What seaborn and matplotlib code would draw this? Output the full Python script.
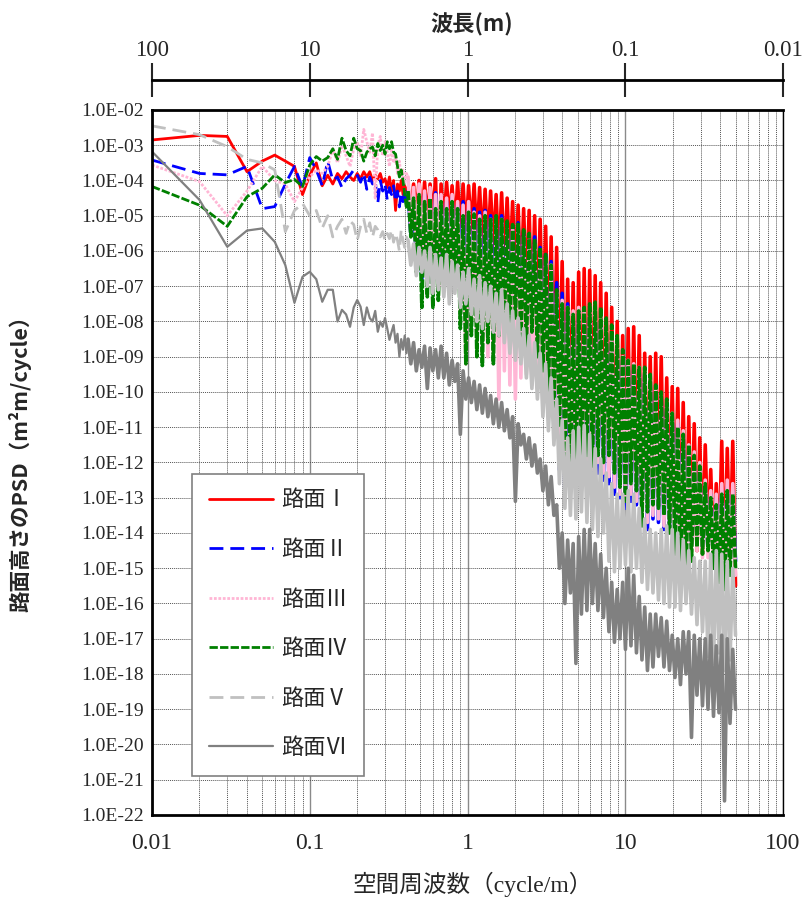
import numpy as np
import pandas as pd
import seaborn as sns
import matplotlib
matplotlib.use("Agg")
import matplotlib.pyplot as plt
from matplotlib.ticker import LogLocator, FuncFormatter, NullLocator, NullFormatter

# ---------------- data (log10 of PSD) ----------------
freq_low = np.round(np.arange(1, 42) * 0.01, 2)          # 0.01 .. 0.41 cycle/m
freq_dense = np.geomspace(0.42, 50, 120)                  # dense part 0.42 .. 50 cycle/m

road1_low = [-2.85, -2.72, -2.75, -3.75, -3.45, -3.28, -3.45, -3.6, -4.4, -3.85,
             -3.5, -4.15, -3.85, -4.1, -3.8, -3.95, -3.75, -3.9, -4.0, -3.8,
             -3.95, -3.75, -3.9, -3.75, -4.0, -3.85, -3.95, -3.8, -4.05, -3.95,
             -4.2, -3.9, -4.3, -4.0, -4.85, -4.1, -4.3, -4.0, -4.4, -4.15, -4.3]
road1_dense = [-4.2, -4.9, -4.1, -5.0, -4.0, -5.3,
               -4.05, -5.2, -4.1, -5.1, -3.95, -7.0,
               -4.1, -5.3, -4.05, -5.2, -4.15, -5.5,
               -4.05, -5.4, -4.1, -5.6, -4.15, -5.5,
               -4.1, -5.7, -4.2, -5.9, -4.25, -6.0,
               -4.3, -6.0, -4.4, -6.3, -4.35, -6.4,
               -4.5, -6.5, -4.6, -6.9, -4.7, -7.2,
               -4.8, -7.3, -4.85, -7.8, -5.0, -8.2,
               -5.1, -8.5, -5.3, -9.0, -5.6, -9.6,
               -5.9, -10.4, -6.3, -10.8, -6.8, -11.0,
               -6.9, -11.5, -6.6, -11.6, -6.5, -11.4,
               -6.55, -11.5, -6.7, -11.8, -6.9, -12.0,
               -7.2, -12.0, -7.6, -12.2, -8.0, -12.5,
               -8.4, -13.1, -8.2, -12.8, -8.15, -12.6,
               -8.4, -12.9, -8.9, -13.2, -9.0, -13.2,
               -8.9, -13.0, -9.0, -13.3, -9.6, -13.6,
               -9.85, -14.0, -9.9, -14.4, -10.3, -14.5,
               -10.7, -14.3, -10.9, -14.5, -11.3, -14.6,
               -11.5, -14.3, -12.2, -14.9, -12.6, -14.8,
               -11.4, -15.5, -11.6, -14.9, -11.4, -15.5]

road2_low = [-3.42, -3.8, -3.84, -3.6, -4.8, -4.74, -4.1, -3.6, -4.2, -3.35,
             -3.7, -4.15, -3.45, -4.0, -3.9, -4.2, -3.95, -3.85, -3.7, -3.85,
             -4.05, -3.8, -4.25, -3.9, -4.1, -4.0, -4.65, -4.0, -4.3, -4.1,
             -4.55, -4.2, -4.4, -4.15, -4.6, -4.3, -4.75, -4.35, -4.6, -4.3, -4.7]
road2_dense = [-4.3, -5.5, -4.5, -6.2, -4.4, -6.8,
               -4.4, -6.5, -4.5, -7.0, -4.35, -6.6,
               -4.5, -6.4, -4.6, -6.8, -4.5, -6.6,
               -4.7, -7.0, -4.6, -7.4, -4.8, -7.2,
               -4.8, -7.6, -4.9, -7.9, -4.85, -7.5,
               -5.0, -8.0, -5.1, -8.3, -5.0, -8.2,
               -5.2, -8.6, -5.3, -9.0, -5.2, -8.8,
               -5.5, -9.0, -5.7, -9.3, -5.6, -9.6,
               -5.9, -10.0, -6.1, -10.4, -6.3, -10.8,
               -6.9, -12.2, -7.2, -13.0, -7.5, -12.7,
               -7.8, -12.7, -7.7, -12.5, -7.8, -12.4,
               -7.8, -12.4, -7.9, -12.3, -8.0, -12.5,
               -8.3, -12.6, -8.6, -12.9, -8.8, -13.0,
               -9.1, -13.3, -9.2, -13.1, -9.3, -13.2,
               -9.4, -13.5, -9.5, -13.9, -9.7, -13.6,
               -10.0, -13.7, -10.2, -13.9, -10.4, -14.0,
               -10.7, -14.0, -10.9, -14.2, -11.2, -14.1,
               -11.7, -14.3, -12.0, -14.2, -12.2, -14.4,
               -12.7, -14.5, -12.9, -14.6, -13.0, -14.5,
               -12.8, -14.7, -12.7, -14.9, -12.8, -14.8]

road3_low = [-3.56, -4.03, -5.0, -4.3, -3.6, -4.0, -4.1, -4.6, -4.2, -3.9,
             -3.7, -3.8, -3.6, -3.1, -3.5, -3.0, -3.3, -3.6, -3.1, -2.9,
             -3.3, -2.55, -2.9, -3.2, -2.65, -4.5, -3.0, -2.75, -3.3, -2.9,
             -3.2, -3.6, -3.1, -3.5, -3.3, -3.8, -3.45, -3.9, -3.7, -4.1, -3.8]
road3_dense = [-3.9, -5.4, -4.2, -5.8, -4.1, -6.2,
               -4.3, -6.5, -4.2, -6.9, -4.4, -6.4,
               -4.4, -7.0, -4.5, -7.2, -4.4, -6.8,
               -4.6, -7.8, -4.7, -9.2, -4.6, -8.0,
               -4.9, -8.6, -5.0, -8.9, -4.9, -9.0,
               -5.1, -9.2, -5.2, -10.2, -5.1, -9.4,
               -5.3, -9.8, -5.4, -10.2, -5.3, -9.6,
               -5.6, -9.5, -5.7, -9.8, -5.8, -9.9,
               -6.0, -10.4, -6.2, -10.6, -6.4, -11.0,
               -7.2, -11.5, -7.4, -12.0, -7.6, -12.3,
               -7.7, -12.5, -7.6, -12.3, -7.65, -12.2,
               -7.6, -12.2, -7.65, -12.0, -7.8, -12.3,
               -8.2, -12.4, -8.4, -12.7, -8.6, -12.9,
               -9.0, -13.1, -9.1, -12.9, -9.2, -13.1,
               -9.3, -13.6, -9.4, -13.7, -9.6, -13.5,
               -9.9, -13.6, -10.1, -13.8, -10.3, -14.0,
               -10.6, -14.6, -10.8, -14.8, -11.1, -15.0,
               -11.5, -14.6, -11.7, -14.5, -12.0, -14.7,
               -12.5, -14.7, -12.8, -15.0, -12.9, -15.1,
               -12.6, -15.3, -12.5, -15.1, -12.6, -15.2]

road4_low = [-4.17, -4.7, -5.3, -4.46, -4.22, -3.84, -4.06, -3.97, -4.17, -3.56,
             -3.32, -3.45, -3.35, -3.1, -3.4, -2.8, -3.15, -3.3, -2.8, -3.1,
             -3.15, -3.45, -3.2, -3.1, -3.05, -3.3, -2.95, -3.15, -3.0, -3.25,
             -2.9, -3.1, -2.9, -3.2, -3.25, -3.6, -3.9, -3.7, -4.0, -4.4, -4.8]
road4_dense = [-4.3, -5.6, -4.5, -6.6, -4.4, -7.6,
               -4.6, -7.3, -4.5, -7.6, -4.8, -7.4,
               -4.6, -7.0, -4.8, -7.1, -4.6, -6.9,
               -4.8, -8.2, -5.0, -9.2, -4.9, -8.4,
               -4.95, -9.0, -5.1, -9.25, -5.0, -8.6,
               -5.1, -9.2, -5.0, -8.4, -5.1, -8.0,
               -5.15, -8.3, -5.25, -7.9, -5.2, -8.6,
               -5.4, -8.7, -5.5, -8.3, -5.7, -9.0,
               -5.9, -9.4, -6.1, -10.0, -6.4, -10.4,
               -7.1, -11.0, -7.5, -12.0, -7.6, -12.4,
               -7.8, -12.4, -7.7, -12.0, -7.6, -11.8,
               -7.5, -12.1, -7.45, -11.8, -7.6, -12.0,
               -7.9, -11.8, -8.1, -12.3, -8.4, -12.7,
               -8.8, -13.1, -9.1, -12.6, -9.2, -12.8,
               -9.3, -13.8, -9.3, -13.4, -9.5, -13.2,
               -9.8, -13.3, -10.0, -13.5, -10.2, -14.0,
               -10.6, -14.6, -11.0, -15.2, -11.2, -15.4,
               -11.5, -14.8, -11.8, -14.4, -12.1, -14.6,
               -12.6, -14.5, -13.0, -15.0, -13.2, -15.4,
               -12.9, -15.6, -12.8, -15.2, -12.9, -15.0]

road5_low = [-2.45, -2.7, -3.04, -3.4, -3.5, -3.7, -5.45, -4.85, -4.65, -5.0,
             -4.85, -5.35, -5.0, -5.6, -5.3, -5.1, -5.5, -5.15, -5.25, -5.7,
             -5.3, -5.1, -5.5, -5.2, -5.6, -5.3, -5.4, -5.6, -5.45, -5.7,
             -5.5, -5.65, -5.4, -5.75, -5.5, -5.7, -6.0, -5.4, -5.7, -5.9, -5.6]
road5_dense = [-5.7, -6.4, -5.8, -6.7, -5.9, -6.6,
               -6.0, -7.0, -5.9, -7.2, -6.1, -7.1,
               -6.2, -7.3, -6.1, -7.5, -6.3, -7.2,
               -6.4, -7.6, -6.6, -7.5, -6.5, -7.8,
               -6.8, -8.0, -6.7, -8.2, -6.9, -8.0,
               -7.0, -8.3, -7.2, -8.4, -7.1, -8.6,
               -7.5, -8.9, -7.7, -9.1, -7.9, -9.2,
               -8.2, -9.6, -8.4, -9.9, -8.6, -10.2,
               -8.9, -10.7, -9.2, -11.1, -9.6, -11.5,
               -10.2, -12.6, -10.8, -13.3, -11.3, -13.5,
               -11.1, -13.6, -11.0, -13.4, -10.95, -13.7,
               -11.2, -13.9, -11.6, -14.1, -11.9, -14.0,
               -12.3, -14.8, -12.6, -15.1, -12.9, -15.0,
               -12.9, -14.9, -12.8, -15.1, -12.9, -15.0,
               -13.3, -15.4, -13.6, -15.6, -13.9, -15.7,
               -14.0, -15.9, -13.9, -16.0, -13.8, -16.1,
               -13.9, -16.1, -14.0, -16.2, -14.2, -16.0,
               -14.5, -16.3, -14.7, -16.6, -14.8, -16.8,
               -14.8, -17.5, -14.6, -17.7, -14.5, -17.4,
               -14.6, -17.9, -14.8, -17.6, -15.0, -16.9]

road6_low = [-3.18, -4.55, -5.88, -5.42, -5.36, -5.74, -6.4, -7.47, -6.73, -6.59,
             -6.8, -7.44, -7.1, -7.1, -8.0, -7.67, -7.8, -8.15, -7.6, -7.39,
             -7.58, -8.1, -7.6, -7.9, -8.0, -7.7, -8.29, -8.0, -8.15, -7.9,
             -8.2, -8.52, -8.3, -8.1, -8.6, -8.35, -9.0, -8.5, -8.8, -8.4, -8.9]
road6_dense = [-8.5, -9.2, -8.6, -9.4, -8.8, -9.3,
               -8.7, -9.9, -8.75, -9.4, -8.8, -9.6,
               -8.7, -9.6, -8.9, -9.8, -9.1, -9.7,
               -9.2, -11.2, -9.4, -10.2, -9.6, -10.3,
               -9.7, -10.5, -9.8, -10.6, -9.9, -10.7,
               -10.1, -10.9, -10.2, -11.0, -10.3, -11.1,
               -10.5, -11.3, -10.7, -13.1, -10.9, -11.5,
               -11.2, -11.9, -11.3, -12.1, -11.5, -12.3,
               -11.9, -12.8, -12.1, -13.2, -12.4, -13.5,
               -13.2, -15.0, -14.0, -16.0, -14.2, -15.7,
               -14.3, -17.7, -14.1, -16.3, -13.9, -16.2,
               -13.9, -16.0, -14.3, -16.2, -14.6, -16.4,
               -15.0, -16.8, -15.4, -17.1, -15.6, -17.0,
               -15.4, -17.3, -15.0, -17.2, -15.2, -17.4,
               -15.8, -17.6, -16.1, -17.9, -16.3, -17.8,
               -16.3, -17.5, -16.4, -17.8, -16.5, -17.9,
               -16.9, -18.1, -17.0, -18.3, -16.8, -18.0,
               -16.8, -19.8, -16.9, -18.6, -17.0, -18.9,
               -17.0, -19.0, -16.9, -19.2, -17.2, -19.1,
               -16.9, -21.6, -17.0, -19.4, -17.3, -19.0]

labels = ["路面Ⅰ", "路面Ⅱ", "路面Ⅲ", "路面Ⅳ", "路面Ⅴ", "路面Ⅵ"]
x_ticks = [0.01, 0.1, 1, 10, 100]
x_tick_labels = ["0.01", "0.1", "1", "10", "100"]
wl_ticks = [100, 10, 1, 0.1, 0.01]
wl_tick_labels = ["100", "10", "1", "0.1", "0.01"]

# ---------------- figure ----------------
sns.set_style("white")
plt.rcParams["font.family"] = ["Liberation Serif", "Noto Sans CJK JP"]

fig = plt.figure(figsize=(8.07, 9.0), dpi=100)
ax = fig.add_axes([152 / 807, 1 - 815 / 900, 631 / 807, 705 / 900])
ax.set_xscale("log")
ax.set_yscale("log")

# (low values, dense values, colour, low-part style, low lw, dense-part style)
series = [
    (road1_low, road1_dense, "#FF0000", "-", 2.0, "-"),
    (road2_low, road2_dense, "#0000FF", (0, (5, 2.5)), 2.0, "-"),
    (road3_low, road3_dense, "#FFB6D5", (0, (1, 0.6)), 2.0, "-"),
    (road4_low, road4_dense, "#008000", (0, (3, 0.8)), 2.0, (0, (2.5, 0.5))),
    (road5_low, road5_dense, "#C0C0C0", (0, (5, 2.5)), 2.0, "-"),
    (road6_low, road6_dense, "#808080", "-", 1.6, "-"),
]
for (lo, de, col, ls, lw, dls), lab in zip(series, labels):
    lo_psd = 10.0 ** np.array(lo)
    de_psd = 10.0 ** np.array(de)
    df_low = pd.DataFrame({"f": np.append(freq_low, freq_dense[0]),
                           "psd": np.append(lo_psd, de_psd[0])})
    df_dense = pd.DataFrame({"f": freq_dense, "psd": de_psd})
    sns.lineplot(data=df_low, x="f", y="psd", ax=ax, color=col, linestyle=ls,
                 linewidth=lw, label=lab, sort=False, estimator=None)
    sns.lineplot(data=df_dense, x="f", y="psd", ax=ax, color=col, linestyle=dls,
                 linewidth=2.6, sort=False, estimator=None)

ax.set_xlim(0.01, 100)
ax.set_ylim(1e-22, 1e-2)

ax.set_xticks(x_ticks)
ax.set_xticklabels(x_tick_labels)
ax.xaxis.set_minor_locator(LogLocator(base=10, subs=np.arange(2, 10), numticks=50))
ax.xaxis.set_minor_formatter(NullFormatter())
yt = [10.0 ** (-k) for k in range(2, 23)]
ax.set_yticks(yt)
ax.yaxis.set_major_formatter(FuncFormatter(lambda v, p: "1.0E-%02d" % int(round(-np.log10(v)))))
ax.yaxis.set_minor_locator(LogLocator(base=10, subs=np.arange(2, 10), numticks=200))
ax.yaxis.set_minor_formatter(NullFormatter())

ax.grid(False)
ax.grid(True, which="major", axis="x", color="#8a8a8a", linestyle="-", linewidth=1.0)
ax.grid(True, which="minor", axis="x", color="#555555", linestyle=(0, (1, 1)), linewidth=0.7)
ax.grid(True, which="major", axis="y", color="#555555", linestyle=(0, (1, 1)), linewidth=0.7)
ax.set_axisbelow(True)

ax.tick_params(axis="y", which="major", direction="in", length=8, width=1.2, labelsize=14, pad=6)
ax.tick_params(axis="y", which="minor", direction="in", length=4, width=0.8)
ax.tick_params(axis="x", which="major", direction="out", length=5, width=1.0, labelsize=17, pad=8)
ax.tick_params(axis="x", which="minor", direction="out", length=3, width=0.8)
for s in ax.spines.values():
    s.set_visible(True)
    s.set_color("black")
    s.set_linewidth(2.0)
ax.spines["right"].set_linewidth(1.0)
ax.set_xlabel("")
ax.set_ylabel("")

def inv(x):
    x = np.asarray(x, dtype=float)
    with np.errstate(divide="ignore", invalid="ignore"):
        return 1.0 / x

sec = ax.secondary_xaxis(1 + 30 / 705, functions=(inv, inv))
sec.set_xticks(wl_ticks)
sec.set_xticklabels(wl_tick_labels)
sec.xaxis.set_minor_locator(NullLocator())
sec.tick_params(axis="x", which="major", direction="inout", length=25, width=1.5,
                labelsize=16.5, pad=1)
for s in sec.spines.values():
    s.set_linewidth(2.0)
    s.set_color("black")

handles, labs = ax.get_legend_handles_labels()
leg = ax.legend(handles, labs, loc="upper left", bbox_to_anchor=(192 / 807, 1 - 474 / 900),
                bbox_transform=fig.transFigure, frameon=True, fancybox=False,
                edgecolor="#808080", framealpha=1, handlelength=2.9,
                labelspacing=1.3, borderpad=0.75, handletextpad=0.35, borderaxespad=0,
                prop={"family": ["Liberation Serif", "Noto Sans CJK JP"], "size": 16})
leg.get_frame().set_linewidth(1.2)

fig.text(20 / 807, 1 - 458 / 900, "路面高さのPSD（m²m/cycle）", rotation=90, ha="center",
         va="center", fontsize=15.5, fontweight="bold", family=["Noto Sans CJK JP", "DejaVu Sans"])
fig.text(472 / 807, 1 - 25 / 900, "波長(m)", ha="center", va="center", fontsize=16,
         fontweight="bold", family=["Noto Sans CJK JP", "DejaVu Sans"])
fig.text(473 / 807, 1 - 884 / 900, "空間周波数（cycle/m）", ha="center", va="center",
         fontsize=17, family=["Liberation Serif", "Noto Sans CJK JP"])

fig.savefig("out.png", dpi=100)
